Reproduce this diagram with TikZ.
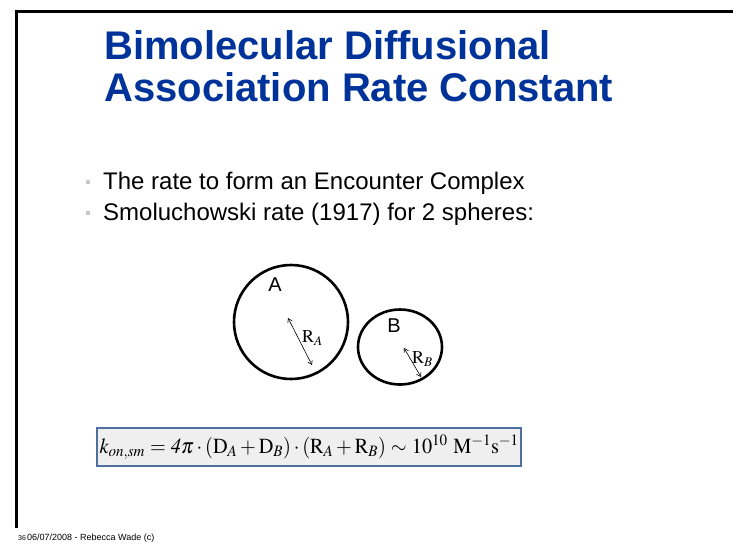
\documentclass[tikz,border=0pt]{standalone}
\usepackage{graphicx}
\usepackage{mathptmx}
\usepackage[no-math]{fontspec}
\setmainfont{Liberation Sans}
\usetikzlibrary{arrows.meta,shapes.geometric}
\definecolor{titleblue}{HTML}{003399}
\definecolor{boxfill}{HTML}{EFEFEF}
\definecolor{boxline}{HTML}{4F6F9F}
\definecolor{bulletgrey}{HTML}{C8C8C8}
\tikzset{
  titletext/.style={anchor=base west, inner sep=0, text=titleblue, font=\fontsize{40}{40}\selectfont\bfseries},
  bodytext/.style={anchor=base west, inner sep=0, font=\fontsize{24}{24}\selectfont},
  bulletmark/.style={fill=bulletgrey, inner sep=0, minimum size=4pt},
  sphere/.style={draw, line width=2.6pt, inner sep=0},
  radius arrow/.style={line width=0.6pt, {Straight Barb[length=4pt,width=5pt]}-{Straight Barb[length=4pt,width=5pt]}},
  rlabel/.style={inner sep=0, font=\fontsize{18}{18}\selectfont},
}
\begin{document}
\begin{tikzpicture}[x=1pt,y=-1pt]
\useasboundingbox (0,0) rectangle (733,547);
% frame
\coordinate (fb) at (16,528);
\coordinate (fc) at (16,11);
\coordinate (fr) at (733,11);
\draw[line width=3pt] (fb) -- (fc) -- (fr);
% title
\node[titletext] (t1) at (104,59) {Bimolecular Diffusional};
\node[titletext] (t2) at (104,101) {Association Rate Constant};
% bullets
\node[bulletmark] (b1) at (88,182) {};
\node[bulletmark] (b2) at (88,213) {};
\node[bodytext] (l1) at (103,189) {The rate to form an Encounter Complex};
\node[bodytext] (l2) at (103,220) {Smoluchowski rate (1917) for 2 spheres:};
% spheres
\node[sphere, circle, minimum size=114pt] (A) at (291,322) {};
\node[sphere, ellipse, minimum width=84pt, minimum height=75pt] (B) at (400,347) {};
\node[inner sep=0, font=\fontsize{20}{20}\selectfont] (Alab) at (275,285) {A};
\node[inner sep=0, font=\fontsize{20}{20}\selectfont] (Blab) at (394,326) {B};
\coordinate (ra1) at (288,318);
\coordinate (ra2) at (312,365);
\draw[radius arrow] (ra1) -- (ra2);
\coordinate (rb1) at (404,348);
\coordinate (rb2) at (421,377);
\draw[radius arrow] (rb1) -- (rb2);
\node[rlabel, anchor=west] (RA) at (302,338) {$\mathrm{R}_{A}$};
\node[rlabel, anchor=west] (RB) at (412,359) {$\mathrm{R}_{B}$};
% formula
\node[draw=boxline, fill=boxfill, line width=1.2pt, minimum width=424pt, minimum height=38pt, inner sep=0] (F) at (309,447) {};
\node[inner sep=0, anchor=west, font=\fontsize{21.5}{21.5}\selectfont] (Ftext) at ([xshift=3pt]F.west)
  {\scalebox{0.945}[1]{\medmuskip=2.5mu plus 1mu\thickmuskip=4.5mu$k_{on,sm} = \mathit{4}\pi\cdot(\mathrm{D}_{A}+\mathrm{D}_{B})\cdot(\mathrm{R}_{A}+\mathrm{R}_{B})\sim 10^{10}\ \mathrm{M}^{-1}\mathrm{s}^{-1}$}};
% footer
\node[anchor=base west, inner sep=0, font=\fontsize{7}{7}\selectfont] (pg) at (18,540) {36};
\node[anchor=base west, inner sep=0, font=\fontsize{9}{9}\selectfont] (ft) at (27,540) {06/07/2008 - Rebecca Wade (c)};
\end{tikzpicture}
\end{document}
